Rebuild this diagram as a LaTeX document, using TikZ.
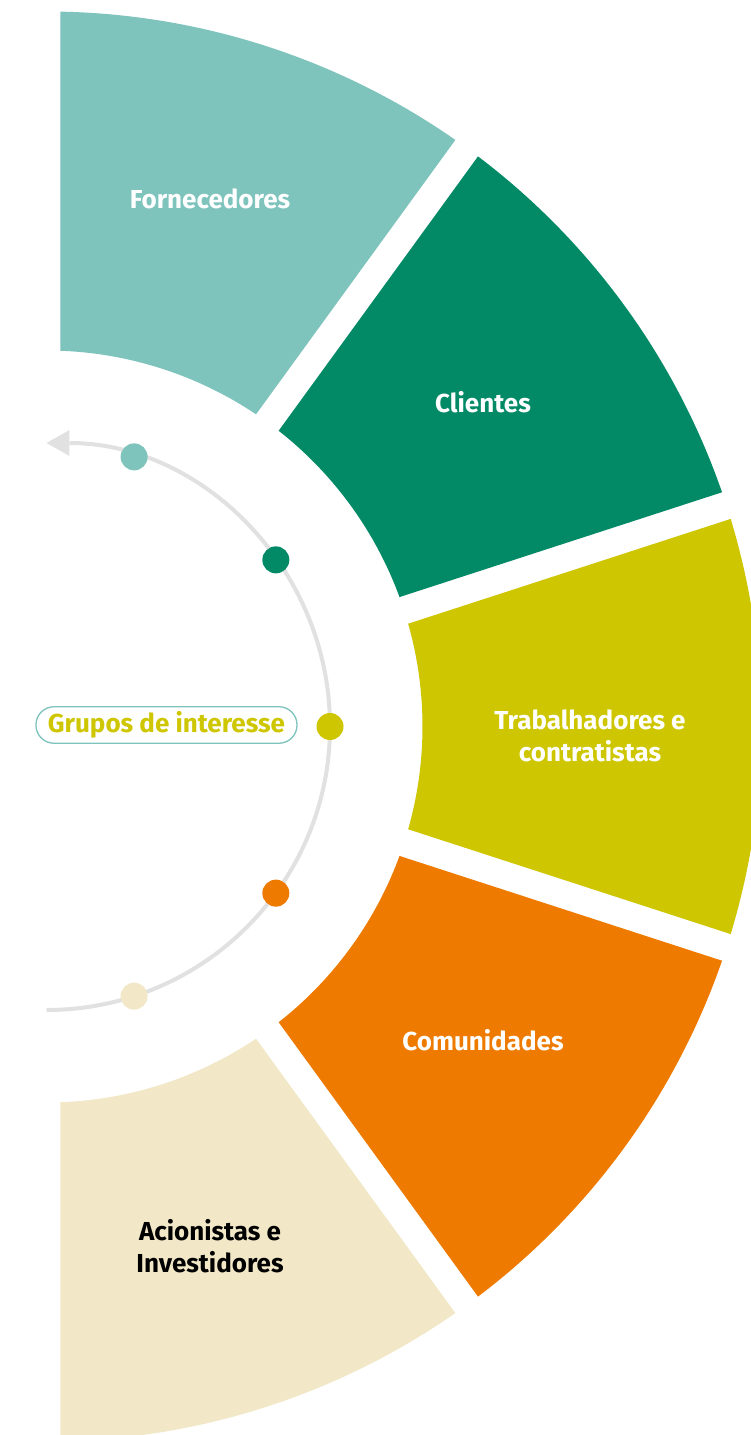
\documentclass[tikz,border=0pt]{standalone}
\usepackage{fontspec}
\setmainfont{Fira Sans}
\usetikzlibrary{positioning,arrows.meta}

\definecolor{fornec}{HTML}{7EC4BD}
\definecolor{client}{HTML}{028966}
\definecolor{trabal}{HTML}{CEC600}
\definecolor{comuni}{HTML}{EE7B00}
\definecolor{acion}{HTML}{F2E8C8}
\definecolor{linegray}{HTML}{E1E1E1}

\begin{document}
\begin{tikzpicture}[x=1pt,y=1pt,
                    seg label/.style={font=\fontsize{26}{32}\selectfont\bfseries,text=white,align=center},
                    dot/.style={circle,fill=#1,minimum size=27pt,inner sep=0pt},
                    title box/.style={draw=fornec,line width=1.3pt,rounded corners=18pt,fill=white,
                                      text=trabal,font=\fontsize{26}{32}\selectfont\bfseries,
                                      minimum width=261pt,minimum height=36.5pt,inner sep=0pt}
                   ]
  \useasboundingbox (-46.5,-708.5) rectangle (704.5,726.5);
  \fill[white] (-46.5,-708.5) rectangle (704.5,726.5);
  \clip (-46.5,-708.5) rectangle (704.5,726.5);

  % the five ring pieces, 36 degrees each
  \foreach \a/\b/\c in {54/90/fornec,18/54/client,-18/18/trabal,-54/-18/comuni,-90/-54/acion}
    \fill[\c] ({\a+2.134}:376) -- ({\a+1.122}:715)
      arc[start angle={\a+1.122},end angle={\b-1.122},radius=715]
      -- ({\b-2.134}:376)
      arc[start angle={\b-2.134},end angle={\a+2.134},radius=376] -- cycle;

  \node[seg label] (fornecedores) at (163.5,527.5) {Fornecedores};
  \node[seg label] (clientes) at (436.5,324.5) {Clientes};
  \node[seg label] (trabalhadores) at (543.5,-9) {Trabalhadores e\\contratistas};
  \node[seg label] (comunidades) at (436.5,-313.5) {Comunidades};
  \node[seg label,text=black] (acionistas) at (163.5,-519.5) {Acionistas e\\Investidores};

  % inner arc with the dots
  \coordinate (arcstart) at (-90:283.5);
  \draw[linegray,line width=4pt,-{Triangle[length=23pt,width=26pt,line width=0pt]}]
    (arcstart) arc[start angle=-90,end angle=90,radius=283.5];

  \node[dot=fornec] (d1) at (72:283.5) {};
  \node[dot=client] (d2) at (36:283.5) {};
  \node[dot=trabal] (d3) at (0:283.5) {};
  \node[dot=comuni] (d4) at (-36:283.5) {};
  \node[dot=acion] (d5) at (-72:283.5) {};

  \node[title box] (grupos) at (120,1.5) {Grupos de interesse};
\end{tikzpicture}
\end{document}
